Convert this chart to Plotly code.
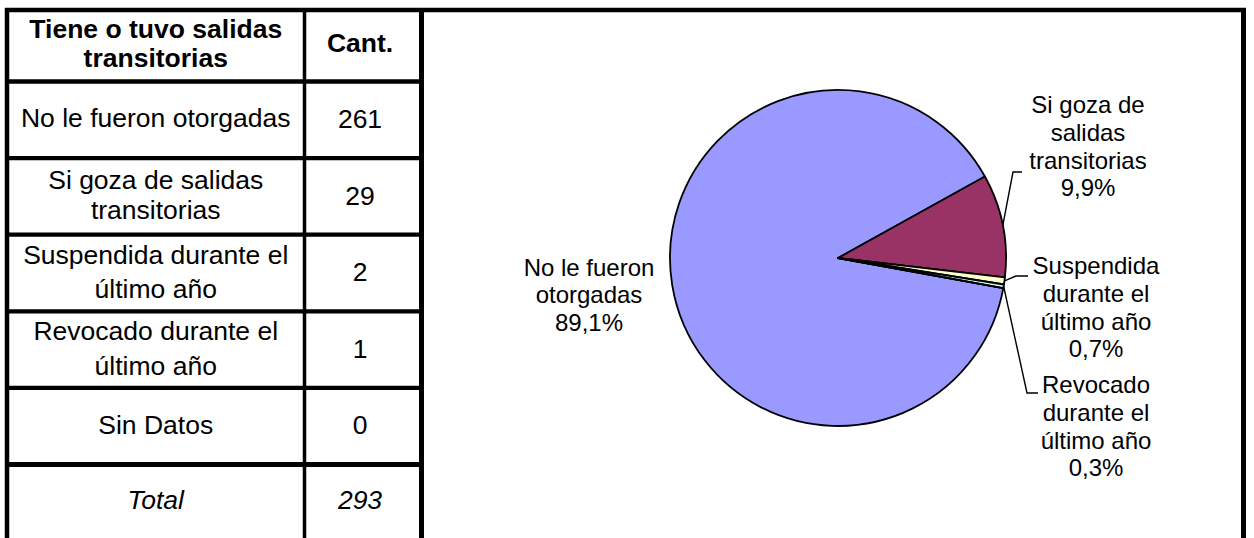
import math
import plotly.graph_objects as go

# ---------------- data ----------------
categorias = [
    "No le fueron otorgadas",
    "Si goza de salidas transitorias",
    "Suspendida durante el último año",
    "Revocado durante el último año",
    "Sin Datos",
]
cantidades = [261, 29, 2, 1, 0]
colores = ["#9999FF", "#993366", "#FFFFCC", "#CCFFFF", "#FFFFFF"]

# table text, one list of lines per row
encabezado_col1 = ["Tiene o tuvo salidas", "transitorias"]
encabezado_col2 = "Cant."
filas_tabla = [
    ["No le fueron otorgadas"],
    ["Si goza de salidas", "transitorias"],
    ["Suspendida durante el", "último año"],
    ["Revocado durante el", "último año"],
    ["Sin Datos"],
]
etiqueta_total = "Total"

# pie label text, one list of lines per slice
lineas_torta = [
    ["No le fueron", "otorgadas"],
    ["Si goza de", "salidas", "transitorias"],
    ["Suspendida", "durante el", "último año"],
    ["Revocado", "durante el", "último año"],
    ["Sin Datos"],
]

total = sum(cantidades)

# ---------------- layout geometry (pixels, top-left origin) ----------------
W, H = 1254, 538
FONT = "Liberation Sans, Arial, Helvetica, sans-serif"

X_LEFT, X_DIV, X_TAB_RIGHT, X_BOX_RIGHT = 7, 304.5, 421.5, 1243.5
Y_TOP, Y_HEAD = 10, 81.5
ROW_H = 76.6
TOTAL_H = 76
TABLE_FS = 26.5
row_line_gap = [29.5, 0, 30, 34, 35, 0, 0]  # header, rows..., total

CX, CY, R = 838, 258, 168     # pie centre / radius
ROTATION = 100.3              # start angle of first slice (clockwise from 12 o'clock)
PIE_FS = 24
PIE_LS = 27.8

# label anchor (x centre, y of first line) and leader elbows per slice
label_pos = {0: (589, 269.5), 1: (1088, 107), 2: (1096, 268), 3: (1096, 387)}
leader_elbows = {
    1: [(1013, 172), (1022, 172)],
    2: [(1016, 276), (1028, 276)],
    3: [(1027, 393), (1038, 393)],
}

def pct(v):
    return f"{v / total * 100:.1f}".replace(".", ",") + "%"

# ---------------- table text ----------------
xs, ys, texts, sizes = [], [], [], []

def add_lines(lines, xc, yc, gap, fs, fmt="{}"):
    n = len(lines)
    for k, ln in enumerate(lines):
        xs.append(xc)
        ys.append(yc + (k - (n - 1) / 2) * gap)
        texts.append(fmt.format(ln))
        sizes.append(fs)

col1_c = (X_LEFT + X_DIV) / 2
col2_c = (X_DIV + X_TAB_RIGHT) / 2 - 3

row_edges = [Y_TOP, Y_HEAD] + [Y_HEAD + (i + 1) * ROW_H for i in range(len(filas_tabla))]
y_total_top = row_edges[-1]
row_centers = [(row_edges[i] + row_edges[i + 1]) / 2 for i in range(len(row_edges) - 1)]
total_center = y_total_top + TOTAL_H / 2

add_lines(encabezado_col1, col1_c, row_centers[0], row_line_gap[0], TABLE_FS, "<b>{}</b>")
add_lines([encabezado_col2], col2_c, row_centers[0], 0, TABLE_FS, "<b>{}</b>")
for i, (lines, v) in enumerate(zip(filas_tabla, cantidades)):
    yc = row_centers[i + 1]
    add_lines(lines, col1_c, yc + 1, row_line_gap[i + 1], TABLE_FS)
    add_lines([str(v)], col2_c, yc + 1.5, 0, TABLE_FS)
add_lines([etiqueta_total], col1_c, total_center, 0, TABLE_FS, "<i>{}</i>")
add_lines([str(total)], col2_c, total_center, 0, TABLE_FS, "<i>{}</i>")

# ---------------- pie labels ----------------
shapes = []
cum = 0
for i, v in enumerate(cantidades):
    start = ROTATION + cum / total * 360
    mid = math.radians(start + v / total * 180)
    cum += v
    if v == 0 or i not in label_pos:
        continue
    lx, ly = label_pos[i]
    lines = lineas_torta[i] + [pct(v)]
    for k, ln in enumerate(lines):
        xs.append(lx)
        ys.append(ly + k * PIE_LS)
        texts.append(ln)
        sizes.append(PIE_FS)
    if i in leader_elbows:
        ex, ey = CX + R * math.sin(mid), CY - R * math.cos(mid)
        pts = [(ex, ey)] + leader_elbows[i]
        path = "M " + " L ".join(f"{px},{py}" for px, py in pts)
        shapes.append(dict(type="path", path=path, xref="x", yref="y",
                           line=dict(color="black", width=1.4), layer="above"))

# ---------------- frame and grid lines ----------------
def hline(y, x0, x1, w):
    shapes.append(dict(type="line", xref="x", yref="y", x0=x0, x1=x1, y0=y, y1=y,
                       line=dict(color="black", width=w), layer="above"))

def vline(x, y0, y1, w):
    shapes.append(dict(type="line", xref="x", yref="y", x0=x, x1=x, y0=y0, y1=y1,
                       line=dict(color="black", width=w), layer="above"))

hline(Y_TOP, X_LEFT - 2, X_BOX_RIGHT + 2.5, 4.5)
vline(X_LEFT, Y_TOP - 2, H + 5, 4.5)
vline(X_DIV, Y_TOP, H + 5, 3.5)
vline(X_TAB_RIGHT, Y_TOP, H + 5, 5)
vline(X_BOX_RIGHT, Y_TOP - 2, H + 5, 5)
hline(Y_HEAD, X_LEFT, X_TAB_RIGHT, 4.5)
for y in row_edges[2:-1]:
    hline(y, X_LEFT, X_TAB_RIGHT, 4.3)
hline(y_total_top, X_LEFT, X_TAB_RIGHT, 5)

# ---------------- figure ----------------
fig = go.Figure()

fig.add_trace(go.Pie(
    values=cantidades,
    labels=categorias,
    marker=dict(colors=colores, line=dict(color="black", width=1.8)),
    sort=False,
    direction="clockwise",
    rotation=ROTATION,
    textinfo="none",
    hoverinfo="label+value+percent",
    showlegend=False,
    domain=dict(x=[(CX - R) / W, (CX + R) / W],
                y=[1 - (CY + R) / H, 1 - (CY - R) / H]),
))

fig.add_trace(go.Scatter(
    x=xs, y=ys, text=texts, mode="text",
    textposition="middle center",
    textfont=dict(family=FONT, size=sizes, color="black"),
    hoverinfo="skip", showlegend=False, cliponaxis=False,
))

fig.update_layout(
    width=W, height=H, autosize=False,
    margin=dict(l=0, r=0, t=0, b=0),
    paper_bgcolor="white", plot_bgcolor="white",
    xaxis=dict(range=[0, W], visible=False, fixedrange=True, domain=[0, 1]),
    yaxis=dict(range=[H, 0], visible=False, fixedrange=True, domain=[0, 1]),
    shapes=shapes,
    font=dict(family=FONT, color="black"),
)

fig.write_html("out.html")
